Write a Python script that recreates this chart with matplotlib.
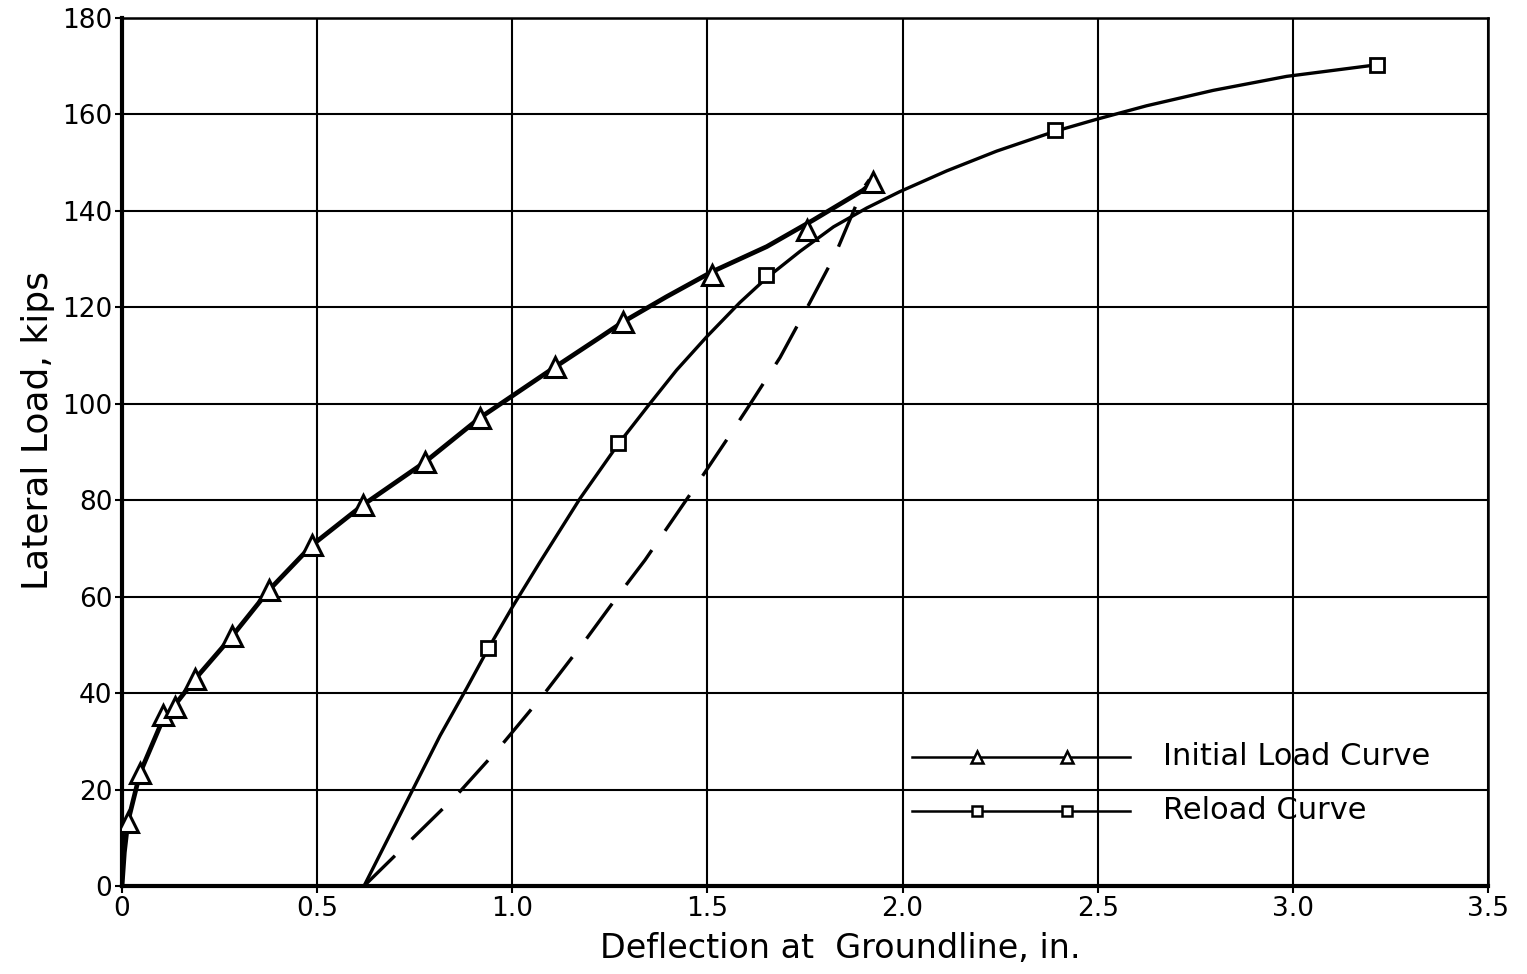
import matplotlib
matplotlib.use("Agg")
import matplotlib.pyplot as plt
from matplotlib.lines import Line2D

# Measured load points (deflection in inches, load in kips)
initial_defl = [0.015, 0.046, 0.105, 0.136, 0.187, 0.282, 0.377, 0.487,
                0.617, 0.776, 0.917, 1.109, 1.284, 1.512, 1.755, 1.924]
initial_load = [13.3, 23.4, 35.5, 37.1, 42.9, 51.8, 61.4, 70.7,
                79.0, 87.9, 97.1, 107.6, 117.0, 126.7, 136.0, 146.0]

reload_defl = [0.938, 1.271, 1.650, 2.390, 3.215]
reload_load = [49.4, 91.9, 126.7, 156.8, 170.3]

# Faired curves drawn through the test points
initial_curve_x = [0.0, 0.006, 0.015, 0.046, 0.105, 0.136, 0.187, 0.282, 0.377,
                   0.487, 0.617, 0.776, 0.917, 1.109, 1.225, 1.284, 1.395,
                   1.512, 1.652, 1.771, 1.899, 1.925]
initial_curve_y = [0.0, 7.0, 13.3, 23.4, 34.6, 37.6, 42.9, 51.8, 61.4,
                   70.7, 79.0, 87.9, 97.1, 107.6, 113.8, 117.0, 122.2,
                   127.4, 132.6, 138.1, 144.3, 146.1]

reload_curve_x = [0.620, 0.815, 0.883, 0.938, 0.999, 1.071, 1.173,
                  1.271, 1.353, 1.421, 1.498, 1.583, 1.650, 1.737, 1.823,
                  1.908, 1.993, 2.113, 2.241, 2.390, 2.497, 2.625, 2.796,
                  2.984, 3.215]
reload_curve_y = [0.0, 31.2, 41.0, 49.2, 57.7, 67.2, 80.3,
                  91.6, 100.1, 107.0, 113.9, 121.0, 126.0, 131.6, 136.7,
                  140.6, 144.0, 148.3, 152.4, 156.5, 159.0, 161.8, 165.0,
                  167.9, 170.3]

unload_x = [0.620, 0.746, 0.858, 0.966, 1.081, 1.191, 1.278, 1.340,
            1.463, 1.549, 1.605, 1.686, 1.761, 1.827, 1.899, 1.915]
unload_y = [0.0, 10.0, 18.9, 28.6, 39.8, 51.4, 61.0, 67.6,
            82.1, 92.5, 99.4, 109.6, 120.8, 130.9, 144.7, 146.5]

x_ticks = [0, 0.5, 1.0, 1.5, 2.0, 2.5, 3.0, 3.5]
x_tick_labels = ["0", "0.5", "1.0", "1.5", "2.0", "2.5", "3.0", "3.5"]
y_ticks = [0, 20, 40, 60, 80, 100, 120, 140, 160, 180]
y_tick_labels = [str(v) for v in y_ticks]

legend_labels = ["Initial Load Curve", "Reload Curve"]

plt.rcParams["font.family"] = ["DejaVu Sans"]

fig = plt.figure(figsize=(15.27, 9.74), dpi=100)
ax = fig.add_axes([0.0799, 0.0903, 0.8946, 0.8912])

ax.set_xlim(0, 3.5)
ax.set_ylim(0, 180)
ax.set_xticks(x_ticks)
ax.set_xticklabels(x_tick_labels)
ax.set_yticks(y_ticks)
ax.set_yticklabels(y_tick_labels)
ax.grid(True, color="black", linewidth=1.5)
ax.set_axisbelow(True)
ax.tick_params(axis="both", length=5, width=1.5, labelsize=19, pad=2,
               direction="out")
for side in ["left", "bottom"]:
    ax.spines[side].set_linewidth(3.0)
for side in ["right", "top"]:
    ax.spines[side].set_linewidth(1.8)

# Faired curves
ax.plot(initial_curve_x, initial_curve_y, color="black", linewidth=3.4,
        solid_capstyle="round", solid_joinstyle="round", zorder=3)
ax.plot(reload_curve_x, reload_curve_y, color="black", linewidth=2.4,
        solid_capstyle="round", solid_joinstyle="round", zorder=3)
ax.plot(unload_x, unload_y, color="black", linewidth=2.4,
        dashes=(13, 7), zorder=3)

# Test points
ax.plot(initial_defl, initial_load, linestyle="none", marker="^",
        markersize=15, markerfacecolor="white", markeredgecolor="black",
        markeredgewidth=2.2, zorder=4)
ax.plot(reload_defl, reload_load, linestyle="none", marker="s",
        markersize=10, markerfacecolor="white", markeredgecolor="black",
        markeredgewidth=2.0, zorder=4)

# Key in the lower right
tr = ax.transAxes
for row, (mk, ms, label) in enumerate([("^", 9, legend_labels[0]),
                                        ("s", 7, legend_labels[1])]):
    yy = 0.149 - row * 0.062
    ax.add_line(Line2D([0.578, 0.738], [yy, yy], transform=tr,
                       color="black", linewidth=1.8, zorder=5))
    ax.plot([0.626, 0.692], [yy, yy], transform=tr, linestyle="none",
            marker=mk, markersize=ms, markerfacecolor="white",
            markeredgecolor="black", markeredgewidth=1.8, zorder=6)
    ax.text(0.762, yy, label, transform=tr, fontsize=22,
            va="center", ha="left", zorder=6)

ax.set_xlabel("Deflection at  Groundline, in.", fontsize=24)
ax.set_ylabel("Lateral Load, kips", fontsize=26)
ax.xaxis.set_label_coords(0.526, -0.053)
ax.yaxis.set_label_coords(-0.049, 0.525)

fig.savefig("out.png", dpi=100, facecolor="white")
